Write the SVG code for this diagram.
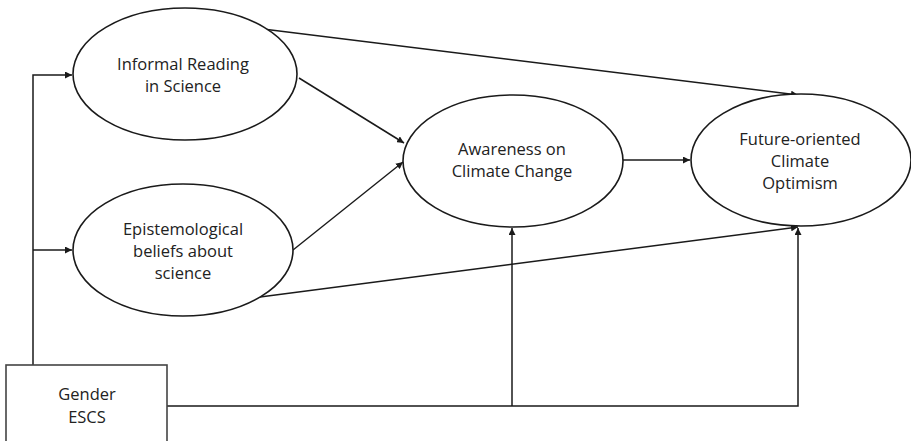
<svg xmlns="http://www.w3.org/2000/svg" width="911" height="441" viewBox="0 0 911 441">
<style>
.n{fill:#fff;stroke:#1a1a1a;stroke-width:1.6}
.b{fill:#fff;stroke:#444;stroke-width:1.6}
.t{font-family:"Open Sans","Liberation Sans",sans-serif;font-size:16.5px;fill:#222;text-anchor:middle}
.c{fill:none;stroke:#1a1a1a;stroke-width:1.5}
</style>
<defs>
<marker id="a" viewBox="0 0 10 10" refX="10" refY="5" markerWidth="7" markerHeight="7" markerUnits="userSpaceOnUse" orient="auto"><path d="M0,0L10,5L0,10z" fill="#1a1a1a"/></marker>
</defs>
<rect width="911" height="441" fill="#fff"/>
<g id="connectors">
<path class="c" d="M33,365V75H72" marker-end="url(#a)"/>
<path class="c" d="M33,250H72" marker-end="url(#a)"/>
<path class="c" d="M167,406H798V228" marker-end="url(#a)"/>
<path class="c" d="M512,406V228" marker-end="url(#a)"/>
<path class="c" d="M263,29L798,95" marker-end="url(#a)"/>
<path class="c" d="M299,78L404,143" marker-end="url(#a)"/>
<path class="c" d="M293,250L403,162" marker-end="url(#a)"/>
<path class="c" d="M260,297L798,227" marker-end="url(#a)"/>
<path class="c" d="M623,160H690" marker-end="url(#a)"/>
</g>
<g id="informal">
<ellipse class="n" cx="185" cy="74" rx="112" ry="66"/>
<text class="t" x="183" y="70">Informal Reading</text>
<text class="t" x="183" y="92">in Science</text>
</g>
<g id="epistemological">
<ellipse class="n" cx="183" cy="250" rx="110" ry="66"/>
<text class="t" x="183" y="235">Epistemological</text>
<text class="t" x="183" y="257">beliefs about</text>
<text class="t" x="183" y="279">science</text>
</g>
<g id="awareness">
<ellipse class="n" cx="513" cy="161" rx="110" ry="66"/>
<text class="t" x="512" y="155">Awareness on</text>
<text class="t" x="512" y="177">Climate Change</text>
</g>
<g id="future">
<ellipse class="n" cx="801" cy="160" rx="110" ry="66"/>
<text class="t" x="800" y="145">Future-oriented</text>
<text class="t" x="800" y="167">Climate</text>
<text class="t" x="800" y="189">Optimism</text>
</g>
<g id="controls">
<rect class="b" x="6" y="365" width="161" height="90"/>
<text class="t" x="87" y="400">Gender</text>
<text class="t" x="87" y="423">ESCS</text>
</g>
</svg>
